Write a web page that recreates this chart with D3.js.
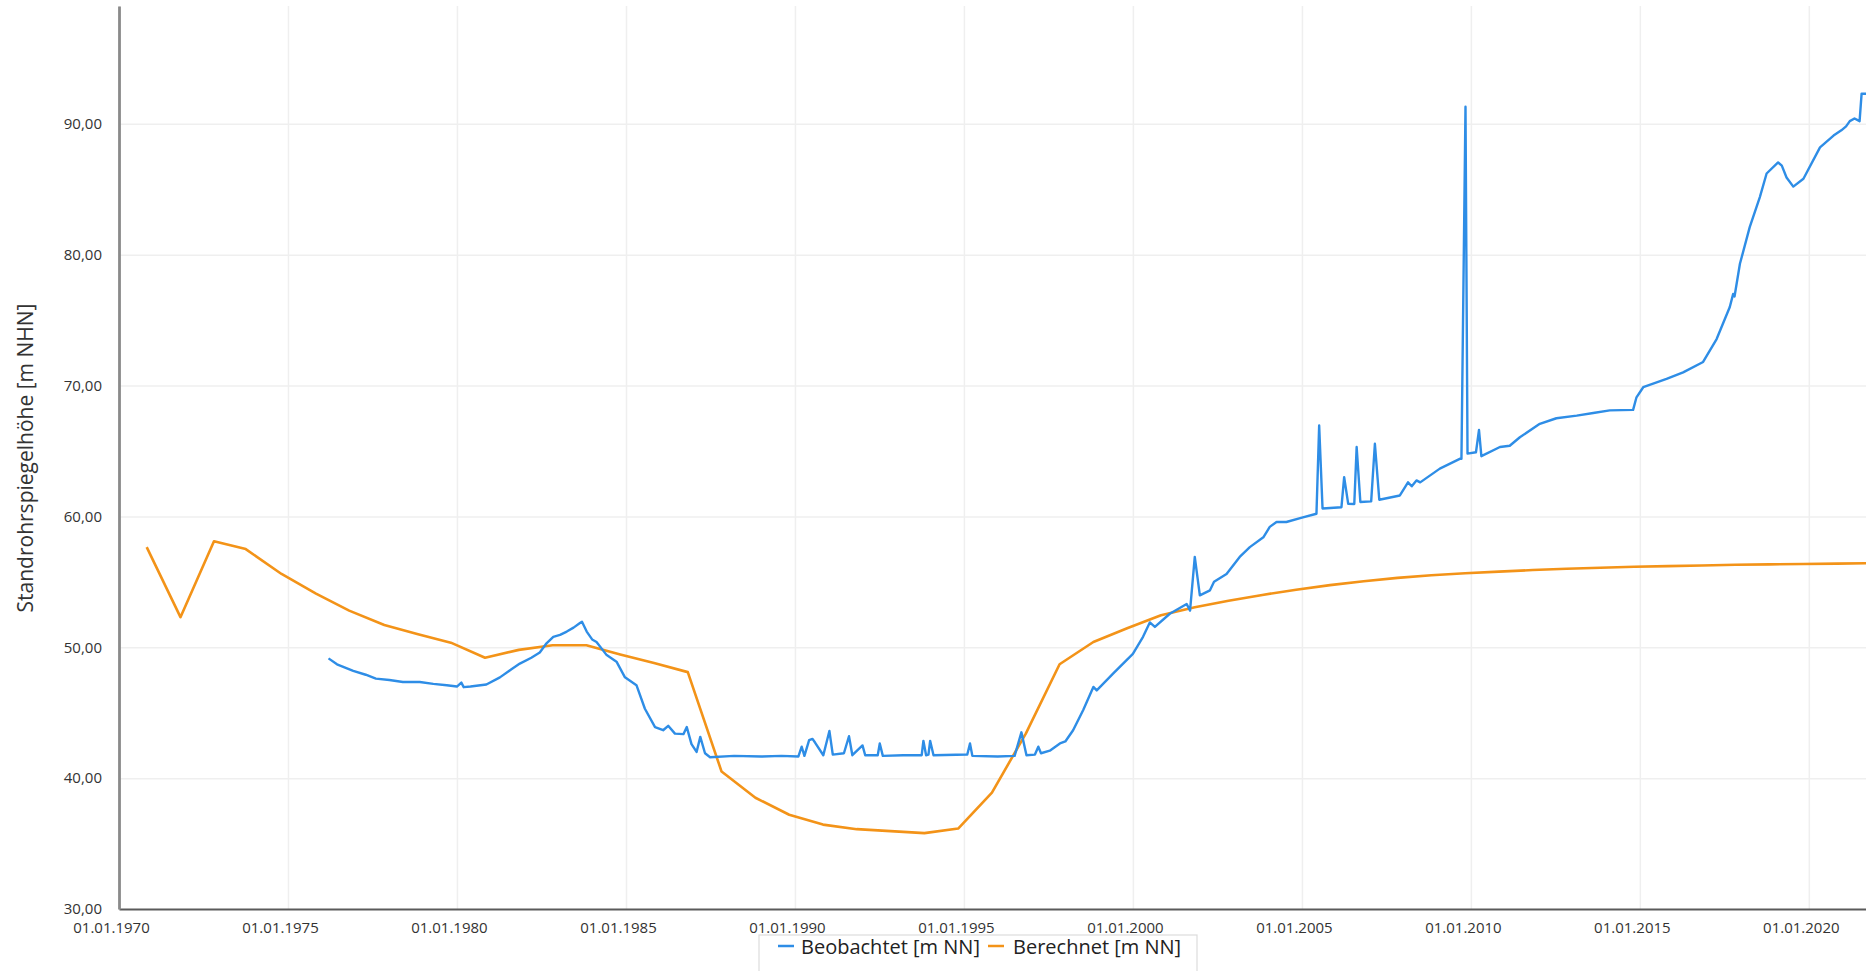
<!DOCTYPE html>
<html>
<head>
<meta charset="utf-8">
<script src="https://cdn.jsdelivr.net/npm/d3@7"></script>
<style>
  html, body { margin: 0; padding: 0; background: #fff; }
  svg { display: block; }
  text { font-family: "Open Sans", "Noto Sans", sans-serif; }
</style>
</head>
<body>
<svg id="chart" width="1866" height="971"></svg>
<script>
// ---- Data (decimal years) ----
const obsYears = [1976.20,1976.45,1976.93,1977.30,1977.60,1978.00,1978.40,1978.90,1979.30,1979.70,1980.00,1980.13,1980.20,1980.40,1980.87,1981.27,1981.60,1981.86,1982.20,1982.45,1982.65,1982.85,1983.05,1983.25,1983.45,1983.64,1983.70,1983.84,1984.00,1984.13,1984.43,1984.72,1984.97,1985.31,1985.56,1985.86,1986.10,1986.25,1986.45,1986.70,1986.80,1986.94,1987.09,1987.20,1987.34,1987.49,1988.20,1989.00,1989.60,1990.10,1990.20,1990.28,1990.42,1990.52,1990.60,1990.84,1991.02,1991.12,1991.45,1991.60,1991.70,1992.00,1992.08,1992.45,1992.51,1992.60,1993.20,1993.75,1993.80,1993.88,1993.95,1994.00,1994.10,1995.10,1995.18,1995.25,1996.00,1996.50,1996.70,1996.85,1997.10,1997.20,1997.28,1997.54,1997.84,1998.00,1998.23,1998.53,1998.83,1998.93,1999.42,2000.00,2000.30,2000.50,2000.65,2001.09,2001.59,2001.69,2001.83,2001.98,2002.28,2002.40,2002.77,2003.16,2003.46,2003.86,2004.05,2004.25,2004.54,2005.00,2005.43,2005.51,2005.61,2006.17,2006.25,2006.37,2006.55,2006.62,2006.73,2007.05,2007.16,2007.29,2007.90,2008.14,2008.25,2008.39,2008.50,2009.08,2009.67,2009.72,2009.84,2009.90,2010.15,2010.24,2010.31,2010.86,2011.15,2011.45,2012.04,2012.53,2013.13,2013.62,2014.11,2014.80,2014.90,2015.10,2015.79,2016.28,2016.87,2017.27,2017.66,2017.76,2017.80,2017.96,2018.25,2018.55,2018.75,2019.09,2019.20,2019.34,2019.54,2019.84,2020.33,2020.73,2020.96,2021.10,2021.21,2021.35,2021.50,2021.56,2021.69];
const obsValues = [49.15,48.7,48.2,47.9,47.6,47.5,47.35,47.35,47.2,47.1,47.0,47.3,46.95,47.0,47.15,47.7,48.3,48.75,49.2,49.6,50.3,50.8,50.95,51.2,51.5,51.85,51.95,51.2,50.6,50.4,49.4,48.9,47.7,47.1,45.3,43.9,43.66,44.0,43.4,43.36,43.9,42.6,42.0,43.15,41.9,41.6,41.7,41.65,41.7,41.65,42.4,41.7,42.9,43.0,42.7,41.75,43.6,41.8,41.9,43.2,41.75,42.5,41.75,41.75,42.65,41.7,41.75,41.75,42.85,41.75,41.8,42.85,41.75,41.8,42.65,41.7,41.65,41.7,43.5,41.75,41.8,42.4,41.9,42.1,42.65,42.8,43.66,45.2,46.97,46.7,48.0,49.5,50.8,51.9,51.55,52.56,53.3,52.8,56.9,53.97,54.35,55.0,55.6,56.9,57.65,58.4,59.2,59.57,59.57,59.9,60.2,66.95,60.6,60.7,63.0,60.96,60.95,65.3,61.1,61.15,65.55,61.27,61.6,62.6,62.3,62.75,62.6,63.65,64.4,64.4,91.3,64.8,64.9,66.6,64.6,65.3,65.4,66.05,67.07,67.5,67.7,67.9,68.1,68.14,69.1,69.87,70.5,71.0,71.8,73.55,76.0,77.0,76.8,79.3,82.1,84.4,86.2,87.05,86.8,85.9,85.2,85.8,88.2,89.1,89.5,89.8,90.2,90.4,90.2,92.3,92.3];

const calcYears = [1970.82,1971.82,1972.81,1973.75,1974.81,1975.83,1976.81,1977.85,1978.85,1979.82,1980.83,1981.83,1982.83,1983.83,1984.83,1985.83,1986.83,1987.83,1988.83,1989.83,1990.83,1991.83,1992.83,1993.83,1994.83,1995.83,1996.83,1997.83,1998.83,1999.83,2000.83,2001.83,2002.83,2003.83,2004.83,2005.83,2006.83,2007.83,2008.83,2009.83,2010.83,2011.83,2012.83,2013.83,2014.83,2015.83,2016.83,2017.83,2018.83,2019.83,2020.83,2021.83];
const calcValues = [57.65,52.3,58.1,57.5,55.6,54.1,52.8,51.7,51.0,50.35,49.2,49.8,50.15,50.15,49.45,48.8,48.1,40.5,38.5,37.2,36.45,36.1,35.95,35.8,36.15,38.9,43.4,48.7,50.4,51.45,52.45,53.05,53.55,54.0,54.4,54.75,55.05,55.3,55.5,55.65,55.78,55.9,56.0,56.08,56.15,56.2,56.25,56.3,56.33,56.36,56.39,56.42];

const xTickYears = [1970,1975,1980,1985,1990,1995,2000,2005,2010,2015,2020];
const yTickValues = [30,40,50,60,70,80,90];
const seriesNames = ["Beobachtet [m NN]", "Berechnet [m NN]"];
const seriesColors = ["#2e8de6", "#f39318"];
const yTitle = "Standrohrspiegelhöhe [m NHN]";

// ---- Helpers ----
function decToDate(yv) {
  const yr = Math.floor(yv);
  const start = Date.UTC(yr, 0, 1), end = Date.UTC(yr + 1, 0, 1);
  return new Date(start + (yv - yr) * (end - start));
}

const svg = d3.select("#chart");
const mLeft = 119, mRight = 1866, mTop = 6, mBottom = 909;

const x = d3.scaleUtc()
  .domain([new Date(Date.UTC(1970, 0, 1)), decToDate(2021.69)])
  .range([mLeft, mRight]);
const y = d3.scaleLinear().domain([30, 99]).range([mBottom, mTop]);

const de = d3.formatLocale({decimal: ",", thousands: ".", grouping: [3], currency: ["", " €"]});
const yFmt = de.format(".2f");
const xFmt = d3.utcFormat("%d.%m.%Y");

// grid
const xTicks = xTickYears.map(yr => new Date(Date.UTC(yr, 0, 1)));
svg.append("g")
  .attr("transform", `translate(0,${mBottom})`)
  .call(d3.axisBottom(x).tickValues(xTicks).tickSize(-(mBottom - mTop)).tickFormat(""))
  .call(g => g.select(".domain").remove())
  .call(g => g.selectAll("line").attr("stroke", "#efefef").attr("stroke-width", 1.5));
svg.append("g")
  .attr("transform", `translate(${mLeft},0)`)
  .call(d3.axisLeft(y).tickValues(yTickValues.slice(1)).tickSize(-(mRight - mLeft)).tickFormat(""))
  .call(g => g.select(".domain").remove())
  .call(g => g.selectAll("line").attr("stroke", "#efefef").attr("stroke-width", 1.5));

// clip
svg.append("clipPath").attr("id", "clip")
  .append("rect").attr("x", mLeft).attr("y", 0).attr("width", mRight - mLeft).attr("height", mBottom);

const obs = obsYears.map((t, i) => ({d: decToDate(t), v: obsValues[i]}));
const calc = calcYears.map((t, i) => ({d: decToDate(t), v: calcValues[i]}));
const line = d3.line().x(p => x(p.d)).y(p => y(p.v));

const plot = svg.append("g").attr("clip-path", "url(#clip)");
plot.append("path").datum(calc)
  .attr("fill", "none").attr("stroke", seriesColors[1]).attr("stroke-width", 2.6)
  .attr("stroke-linejoin", "round").attr("d", line);
plot.append("path").datum(obs)
  .attr("fill", "none").attr("stroke", seriesColors[0]).attr("stroke-width", 2.4)
  .attr("stroke-linejoin", "round").attr("d", line);

// axes
const xAxis = svg.append("g")
  .attr("transform", `translate(0,${mBottom})`)
  .call(d3.axisBottom(x).tickValues(xTicks).tickSize(0).tickPadding(13).tickFormat(xFmt));
xAxis.select(".domain").attr("stroke", "#5a5a5a").attr("stroke-width", 2.2);
xAxis.selectAll("text").attr("font-size", 15).attr("fill", "#333").attr("dx", -8);

const yAxis = svg.append("g")
  .attr("transform", `translate(${mLeft},0)`)
  .call(d3.axisLeft(y).tickValues(yTickValues).tickSize(0).tickPadding(17).tickFormat(yFmt));
yAxis.select(".domain").attr("stroke", "#8a8a8a").attr("stroke-width", 2.8);
yAxis.selectAll("text").attr("font-size", 15).attr("fill", "#333");

// y title
svg.append("text")
  .attr("transform", `translate(33,458) rotate(-90)`)
  .attr("text-anchor", "middle")
  .attr("font-size", 21).attr("fill", "#333")
  .text(yTitle);

// legend
const lg = svg.append("g");
lg.append("rect").attr("x", 759).attr("y", 935).attr("width", 438).attr("height", 60)
  .attr("fill", "#fff").attr("stroke", "#dcdcdc").attr("stroke-width", 1.2);
const items = [{x: 778, tx: 801}, {x: 988, tx: 1013}];
items.forEach((it, i) => {
  lg.append("line").attr("x1", it.x).attr("x2", it.x + 16).attr("y1", 946).attr("y2", 946)
    .attr("stroke", seriesColors[i]).attr("stroke-width", 2.5);
  lg.append("text").attr("x", it.tx).attr("y", 954).attr("font-size", 20).attr("fill", "#222")
    .text(seriesNames[i]);
});
</script>
</body>
</html>
